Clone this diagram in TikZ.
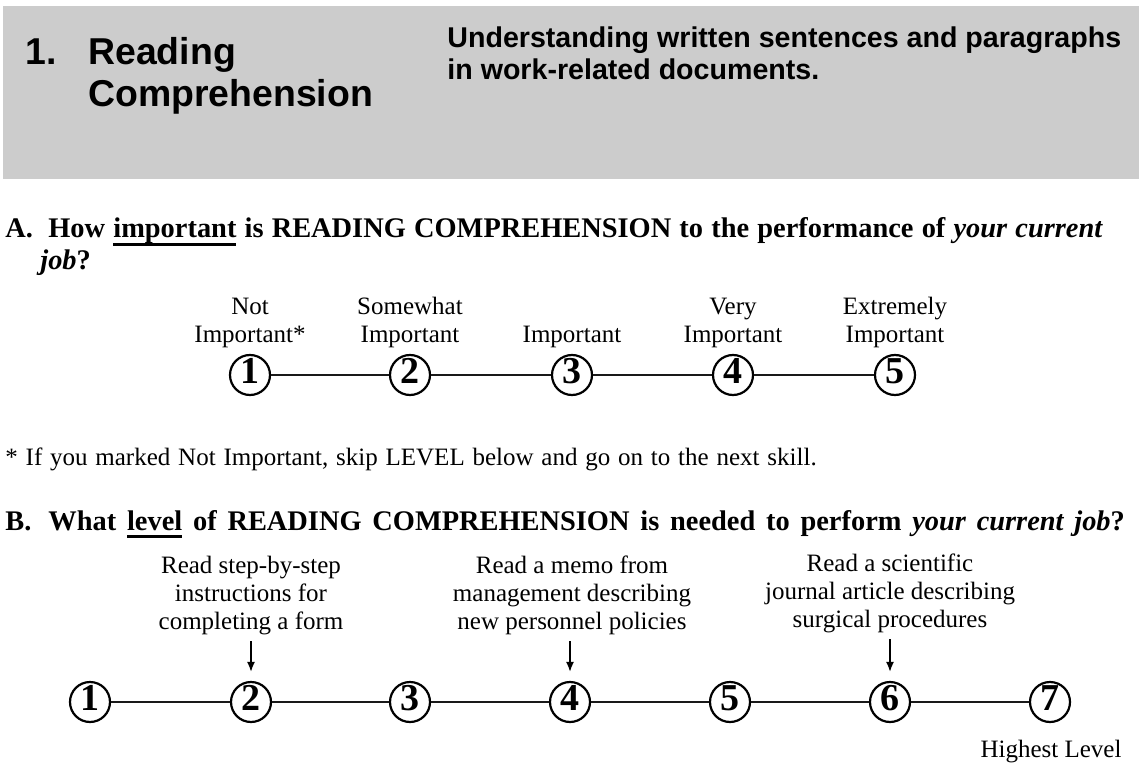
\documentclass[tikz,border=0pt]{standalone}
\usepackage{fontspec}
\setmainfont{Liberation Serif}
\setsansfont{Liberation Sans}
\usepackage{xcolor}
\usetikzlibrary{arrows.meta}
\definecolor{hdrgray}{HTML}{CCCCCC}
\newcommand{\thickul}[1]{\setbox0=\hbox{#1}\leavevmode\rlap{\vrule width\wd0 height -2.6pt depth 3.9pt}\box0\relax}

\begin{document}
\begin{tikzpicture}[x=0.5pt,y=-0.5pt,
  numcirc/.style={circle,draw,line width=1.1pt,minimum size=20pt,inner sep=0pt,text height=8.6pt,text depth=0pt,font=\fontsize{19}{19}\selectfont\bfseries},
  scalelbl/.style={align=center,anchor=base,font=\fontsize{12.5}{14}\selectfont},
  hdrtxt/.style={anchor=base west,inner xsep=0pt,font=\sffamily\bfseries\fontsize{18.7}{21}\selectfont},
  qtxt/.style={anchor=base west,inner xsep=0pt,font=\fontsize{14.2}{16}\selectfont\bfseries},
  conn/.style={line width=0.8pt,black!90},
  lvlarrow/.style={line width=0.8pt,-{Latex[length=5pt,width=4pt]},shorten >=4.5pt}]
\useasboundingbox (0,0) rectangle (1139,764);
\fill[hdrgray] (3,6) rectangle (1139,179);
% header
\node[hdrtxt] (num) at (25,65) {1.};
\node[hdrtxt] (skill) at (88,65) {Reading};
\node[hdrtxt] (skill2) at (88,107) {Comprehension};
\node[anchor=base west,inner xsep=0pt,font=\sffamily\bfseries\fontsize{14.3}{16}\selectfont] (def) at (447,48) {Understanding written sentences and paragraphs};
\node[anchor=base west,inner xsep=0pt,font=\sffamily\bfseries\fontsize{14.3}{16}\selectfont] (def2) at (447,80) {in work-related documents.};
% question A
\node[qtxt] (qA) at (5,238) {A.};
\node[qtxt] (qAtxt) at (48,238) {\spaceskip=4.1pt How \thickul{important} is READING COMPREHENSION to the performance of \textit{your current}};
\node[qtxt] (qAtxt2) at (40,270) {\textit{job}?};
\node[scalelbl] (la1) at (250,343) {Not\\Important*};
\node[scalelbl] (la2) at (410,343) {Somewhat\\Important};
\node[scalelbl] (la3) at (572,343) {Important};
\node[scalelbl] (la4) at (733,343) {Very\\Important};
\node[scalelbl] (la5) at (895,343) {Extremely\\Important};
\node[numcirc] (a1) at (250,375) {1};
\node[numcirc] (a2) at (410,375) {2};
\node[numcirc] (a3) at (572,375) {3};
\node[numcirc] (a4) at (733,375) {4};
\node[numcirc] (a5) at (895,375) {5};
\draw[conn] (a1) -- (a2);
\draw[conn] (a2) -- (a3);
\draw[conn] (a3) -- (a4);
\draw[conn] (a4) -- (a5);
\node[anchor=base west,inner xsep=0pt,font=\fontsize{12.5}{14}\selectfont] (note) at (5,465) {\spaceskip=3.9pt * If you marked Not Important, skip LEVEL below and go on to the next skill.};
% question B
\node[qtxt] (qB) at (5,530) {B.};
\node[qtxt] (qBtxt) at (48,530) {\spaceskip=5.4pt What \thickul{level} of READING COMPREHENSION is needed to perform \textit{your current job}?};
\node[scalelbl] (d2) at (251,629) {Read step-by-step\\instructions for\\completing a form};
\node[scalelbl] (d4) at (572,629) {Read a memo from\\management describing\\new personnel policies};
\node[scalelbl] (d6) at (890,627) {Read a scientific\\journal article describing\\surgical procedures};
\node[numcirc] (b1) at (90,702) {1};
\node[numcirc] (b2) at (251,702) {2};
\node[numcirc] (b3) at (410,702) {3};
\node[numcirc] (b4) at (570,702) {4};
\node[numcirc] (b5) at (730,702) {5};
\node[numcirc] (b6) at (890,702) {6};
\node[numcirc] (b7) at (1050,702) {7};
\draw[conn] (b1) -- (b2);
\draw[conn] (b2) -- (b3);
\draw[conn] (b3) -- (b4);
\draw[conn] (b4) -- (b5);
\draw[conn] (b5) -- (b6);
\draw[conn] (b6) -- (b7);
\draw[lvlarrow] (d2.south -| b2) -- (b2.north);
\draw[lvlarrow] (d4.south -| b4) -- (b4.north);
\draw[lvlarrow] (d6.south -| b6) -- (b6.north);
\node[scalelbl] (top) at (1051,757) {Highest Level};
\end{tikzpicture}
\end{document}
